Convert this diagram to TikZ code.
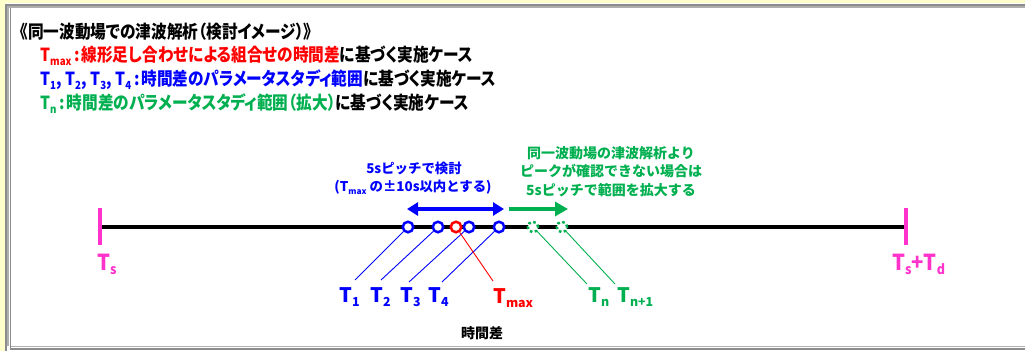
\documentclass[tikz,border=0pt]{standalone}
\usepackage{fontspec}
\usetikzlibrary{arrows.meta}
\newfontfamily\jpc[RawFeature=+palt]{Noto Sans CJK JP}
\newfontfamily\jpn{Noto Sans CJK JP}
\definecolor{jred}{RGB}{255,0,0}
\definecolor{jblue}{RGB}{0,0,255}
\definecolor{jgreen}{RGB}{0,176,80}
\definecolor{jpink}{RGB}{255,51,204}
\definecolor{bgyellow}{RGB}{255,255,204}
\definecolor{framegray}{RGB}{140,140,140}
\definecolor{framelight}{RGB}{175,175,175}
\newcommand{\lowsub}[1]{\raisebox{-0.22em}{\scalebox{0.62}{#1}}}
\newcommand{\narrow}[1]{\scalebox{0.87}[1]{#1}}
\newcommand{\narrowp}[1]{\scalebox{0.92}[1]{#1}}
\newcommand{\hcolon}{\hspace{0.18em}:\hspace{0.12em}}
\tikzset{
  headline/.style={anchor=west, inner sep=0pt, font=\jpc\bfseries\fontsize{18}{20}\selectfont},
  smalltxt/.style={inner sep=0pt, align=center, font=\jpn\bfseries\fontsize{13.4}{19}\selectfont},
  greentxt/.style={inner sep=0pt, align=center, text=jgreen, font=\jpn\bfseries\fontsize{14}{18.5}\selectfont},
  lbl/.style={anchor=base west, inner sep=0pt, font=\jpn\bfseries\fontsize{20}{22}\selectfont},
  pinklbl/.style={anchor=base west, inner sep=0pt, text=jpink, font=\jpn\bfseries\fontsize{22}{24}\selectfont},
  bcirc/.style={circle, draw=jblue, line width=2.5pt, fill=white, minimum size=10.5pt, inner sep=0pt},
  rcirc/.style={circle, draw=jred, line width=2.5pt, fill=white, minimum size=10.5pt, inner sep=0pt},
  gcirc/.style={circle, draw=jgreen, line width=2.5pt, dash pattern=on 2.6pt off 2.6pt, fill=white, minimum size=10.5pt, inner sep=0pt},
  leader/.style={line width=0.9pt},
  axis/.style={line width=3.6pt, black},
  tick/.style={line width=3.8pt, jpink},
  barrow/.style={jblue, line width=3.3pt, {Triangle[length=11pt,width=13pt]}-{Triangle[length=11pt,width=13pt]}},
  garrow/.style={jgreen, line width=3.5pt, -{Triangle[length=13pt,width=14pt]}},
}
\begin{document}
\begin{tikzpicture}[x=1pt,y=-1pt]
\useasboundingbox (0,0) rectangle (1025,351);
% background and frame
\fill[bgyellow] (0,0) rectangle (1025,351);
\fill[white] (5,3) rectangle (1025,351);
\draw[framegray, line width=2pt] (6,351) -- (6,4.5) -- (1025,4.5);
\draw[framelight, line width=1.5pt] (8.2,346) -- (8.2,7) -- (1025,7);
\draw[framegray, line width=1.8pt] (10.5,8) -- (10.5,348.8) -- (1025,348.8);
\draw[framelight, line width=1pt] (10.5,346.5) -- (1025,346.5);

% heading lines
\node[headline] (title) at (20,32) {\narrow{《同一波動場での津波解析（検討イメージ）》}};
\node[headline] (l2) at (40,56) {\narrow{{\color{jred}T\lowsub{max}\hcolon 線形足し合わせによる組合せの時間差}に基づく実施ケース}};
\node[headline] (l3) at (40,80) {\narrow{{\color{jblue}T\lowsub{1}, T\lowsub{2}, T\lowsub{3}, T\lowsub{4}\hcolon 時間差のパラメータスタディ範囲}に基づく実施ケース}};
\node[headline] (l4) at (40,104) {\narrow{{\color{jgreen}T\lowsub{n}\hcolon 時間差のパラメータスタディ範囲（拡大）}に基づく実施ケース}};

% axis
\coordinate (ax0) at (100,227);
\coordinate (ax1) at (906,227);
\draw[axis] (ax0) -- (ax1);
\coordinate (tk0a) at (100,208);
\coordinate (tk0b) at (100,245);
\coordinate (tk1a) at (906,208);
\coordinate (tk1b) at (906,245);
\draw[tick] (tk0a) -- (tk0b);
\draw[tick] (tk1a) -- (tk1b);
\node[pinklbl] (ts) at (97,270) {\narrowp{T\lowsub{s}}};
\node[pinklbl] (tstd) at (892,270) {\narrowp{T\lowsub{s}+T\lowsub{d}}};

% annotation texts
\node[smalltxt, text=jblue] (bt1) at (414,168) {5sピッチで検討};
\node[smalltxt, text=jblue] (bt2) at (413,187) {(T\lowsub{max} の±10s以内とする)};
\node[greentxt] (gt) at (611,171.5) {同一波動場の津波解析より\\ピークが確認できない場合は\\5sピッチで範囲を拡大する};

% arrows
\coordinate (ba0) at (407,209);
\coordinate (ba1) at (504,209);
\draw[barrow] (ba0) -- (ba1);
\coordinate (ga0) at (509,209);
\coordinate (ga1) at (568,209);
\draw[garrow] (ga0) -- (ga1);

% leader end points
\coordinate (e1) at (355,280);
\coordinate (e2) at (381,280);
\coordinate (e3) at (409,282);
\coordinate (e4) at (442,282);
\coordinate (em) at (493,281);
\coordinate (en) at (587,284);
\coordinate (en1) at (615,284);

% circles
\node[bcirc] (c1) at (408,227) {};
\node[bcirc] (c2) at (438,227) {};
\node[bcirc] (c3) at (469,227) {};
\node[bcirc] (c4) at (499,227) {};
\node[gcirc] (g1) at (533,227) {};
\node[gcirc] (g2) at (562,227) {};

% leaders
\draw[leader, jblue] (c1) -- (e1);
\draw[leader, jblue] (c2) -- (e2);
\draw[leader, jblue] (c3) -- (e3);
\draw[leader, jblue] (c4) -- (e4);
\draw[leader, jgreen] (g1) -- (en);
\draw[leader, jgreen] (g2) -- (en1);
\node[rcirc] (cm) at (456,227) {};
\draw[leader, jred] (cm) -- (em);

% labels
\node[lbl, text=jblue] (t1) at (339,302) {T\lowsub{1}};
\node[lbl, text=jblue] (t2) at (370,302) {T\lowsub{2}};
\node[lbl, text=jblue] (t3) at (400,302) {T\lowsub{3}};
\node[lbl, text=jblue] (t4) at (428,302) {T\lowsub{4}};
\node[lbl, text=jred] (tm) at (493,303) {T\lowsub{max}};
\node[lbl, text=jgreen] (tn) at (588,302) {T\lowsub{n}};
\node[lbl, text=jgreen] (tn1) at (617,302) {T\lowsub{n+1}};

\node[inner sep=0pt, font=\jpn\bfseries\fontsize{14}{16}\selectfont] (xlab) at (482,333) {時間差};
\end{tikzpicture}
\end{document}
